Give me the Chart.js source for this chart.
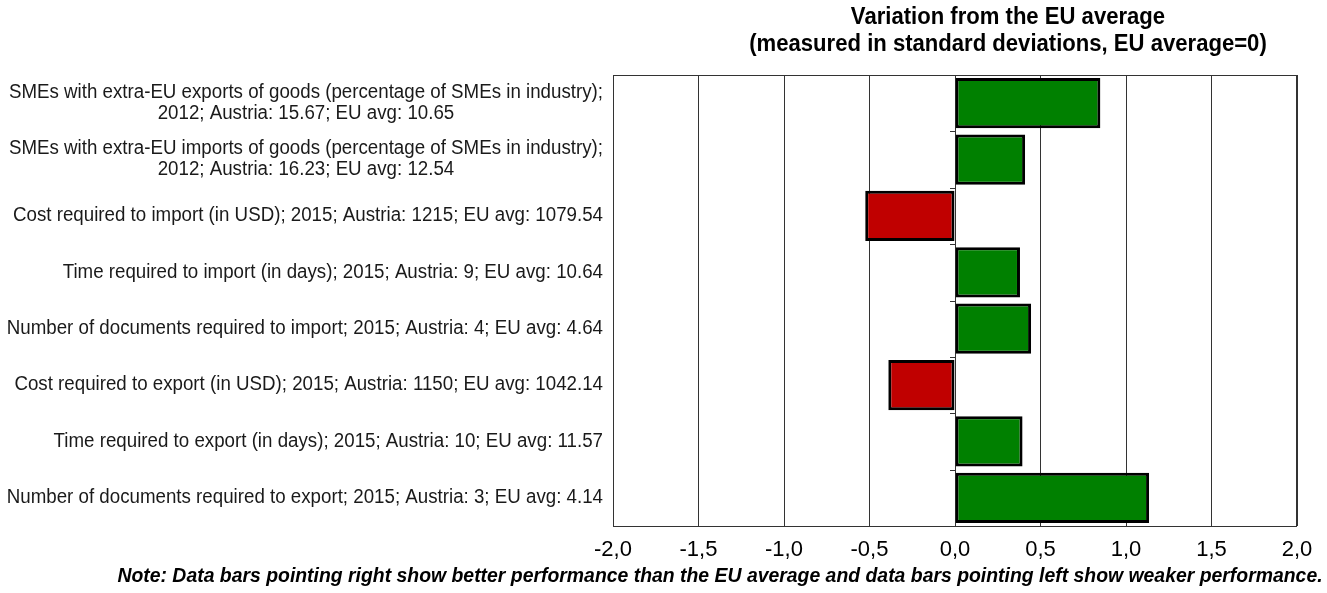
<!DOCTYPE html>
<html>
<head>
<meta charset="utf-8">
<script src="https://cdn.jsdelivr.net/npm/chart.js@4.4.1/dist/chart.umd.min.js"></script>
<style>
  html, body { margin: 0; padding: 0; background: #fff; }
</style>
</head>
<body>
<canvas id="chart" width="1327" height="593"></canvas>
<script>
var categories = [
    ["SMEs with extra-EU exports of goods (percentage of SMEs in industry);", "2012; Austria: 15.67; EU avg: 10.65"],
    ["SMEs with extra-EU imports of goods (percentage of SMEs in industry);", "2012; Austria: 16.23; EU avg: 12.54"],
    ["Cost required to import (in USD); 2015; Austria: 1215; EU avg: 1079.54"],
    ["Time required to import (in days); 2015; Austria: 9; EU avg: 10.64"],
    ["Number of documents required to import; 2015; Austria: 4; EU avg: 4.64"],
    ["Cost required to export (in USD); 2015; Austria: 1150; EU avg: 1042.14"],
    ["Time required to export (in days); 2015; Austria: 10; EU avg: 11.57"],
    ["Number of documents required to export; 2015; Austria: 3; EU avg: 4.14"]
];
var variation = [0.85, 0.41, -0.525, 0.38, 0.445, -0.39, 0.395, 1.135];
var xTickLabels = ["-2,0", "-1,5", "-1,0", "-0,5", "0,0", "0,5", "1,0", "1,5", "2,0"];
var titleLines = ["Variation from the EU average", "(measured in standard deviations, EU average=0)"];
var noteText = "Note: Data bars pointing right show better performance than the EU average and data bars pointing left show weaker performance.";

var FONT = '"Liberation Sans", Arial, sans-serif';

// no narrow font here, so squeeze the text a little sideways
function squeezed(ctx, text, x, y, k) {
    ctx.save();
    ctx.translate(x, y);
    ctx.scale(k, 1);
    ctx.fillText(text, 0, 0);
    ctx.restore();
}

// labels, little ticks on the zero line, frame, title and note
var extras = {
    id: 'extras',
    afterDraw: function (chart) {
        var ctx = chart.ctx;
        var area = chart.chartArea;
        var xs = chart.scales.x;
        var ys = chart.scales.y;
        ctx.save();

        // frame
        ctx.strokeStyle = '#333';
        ctx.lineWidth = 1;
        ctx.strokeRect(area.left + 0.5, area.top + 0.5, area.right - area.left - 1, area.bottom - area.top);

        // ticks at category boundaries on the zero line
        var x0 = xs.getPixelForValue(0);
        ctx.beginPath();
        for (var i = 1; i < categories.length; i++) {
            var yb = (ys.getPixelForValue(i - 1) + ys.getPixelForValue(i)) / 2;
            ctx.moveTo(x0 - 5, Math.round(yb) + 0.5);
            ctx.lineTo(x0, Math.round(yb) + 0.5);
        }
        ctx.stroke();

        // category labels
        var kLab = 0.96;
        ctx.fillStyle = '#1a1a1a';
        ctx.font = '19.5px ' + FONT;
        ctx.textBaseline = 'middle';
        ctx.textAlign = 'center';
        var lineH = 21;
        categories.forEach(function (lines, i) {
            var yc = ys.getPixelForValue(i);
            var w = 0;
            lines.forEach(function (t) { w = Math.max(w, ctx.measureText(t).width * kLab); });
            var cx = area.left - 10 - w / 2;
            lines.forEach(function (t, j) {
                squeezed(ctx, t, cx, yc + (j - (lines.length - 1) / 2) * lineH, kLab);
            });
        });

        // title
        ctx.fillStyle = '#000';
        ctx.font = 'bold 23.5px ' + FONT;
        var tx = (area.left + area.right) / 2 + 53;
        squeezed(ctx, titleLines[0], tx, 18, 0.94);
        squeezed(ctx, titleLines[1], tx, 45, 0.94);

        // note
        ctx.font = 'italic bold 20px ' + FONT;
        squeezed(ctx, noteText, 720, 576, 0.97);
        ctx.restore();
    }
};

var ctx = document.getElementById('chart').getContext('2d');
new Chart(ctx, {
    type: 'bar',
    data: {
        labels: categories,
        datasets: [{
            data: variation,
            backgroundColor: variation.map(function (v) { return v >= 0 ? '#008000' : '#C00000'; }),
            borderColor: '#000',
            borderWidth: 3,
            borderSkipped: false,
            barPercentage: 0.89,
            categoryPercentage: 1
        }]
    },
    options: {
        indexAxis: 'y',
        responsive: false,
        animation: false,
        layout: { padding: { left: 0, right: 30, top: 75, bottom: 0 } },
        plugins: {
            legend: { display: false },
            tooltip: { enabled: false }
        },
        scales: {
            x: {
                min: -2,
                max: 2,
                ticks: {
                    stepSize: 0.5,
                    padding: 11,
                    color: '#000',
                    font: { family: FONT, size: 22 },
                    callback: function (v, i) { return xTickLabels[i]; }
                },
                grid: { color: '#333', lineWidth: 1, drawTicks: false },
                border: { display: false },
                afterFit: function (scale) { scale.height = 67; }
            },
            y: {
                ticks: { display: false },
                grid: { display: false },
                border: { display: false },
                afterFit: function (scale) { scale.width = 613; }
            }
        }
    },
    plugins: [extras]
});
</script>
</body>
</html>
